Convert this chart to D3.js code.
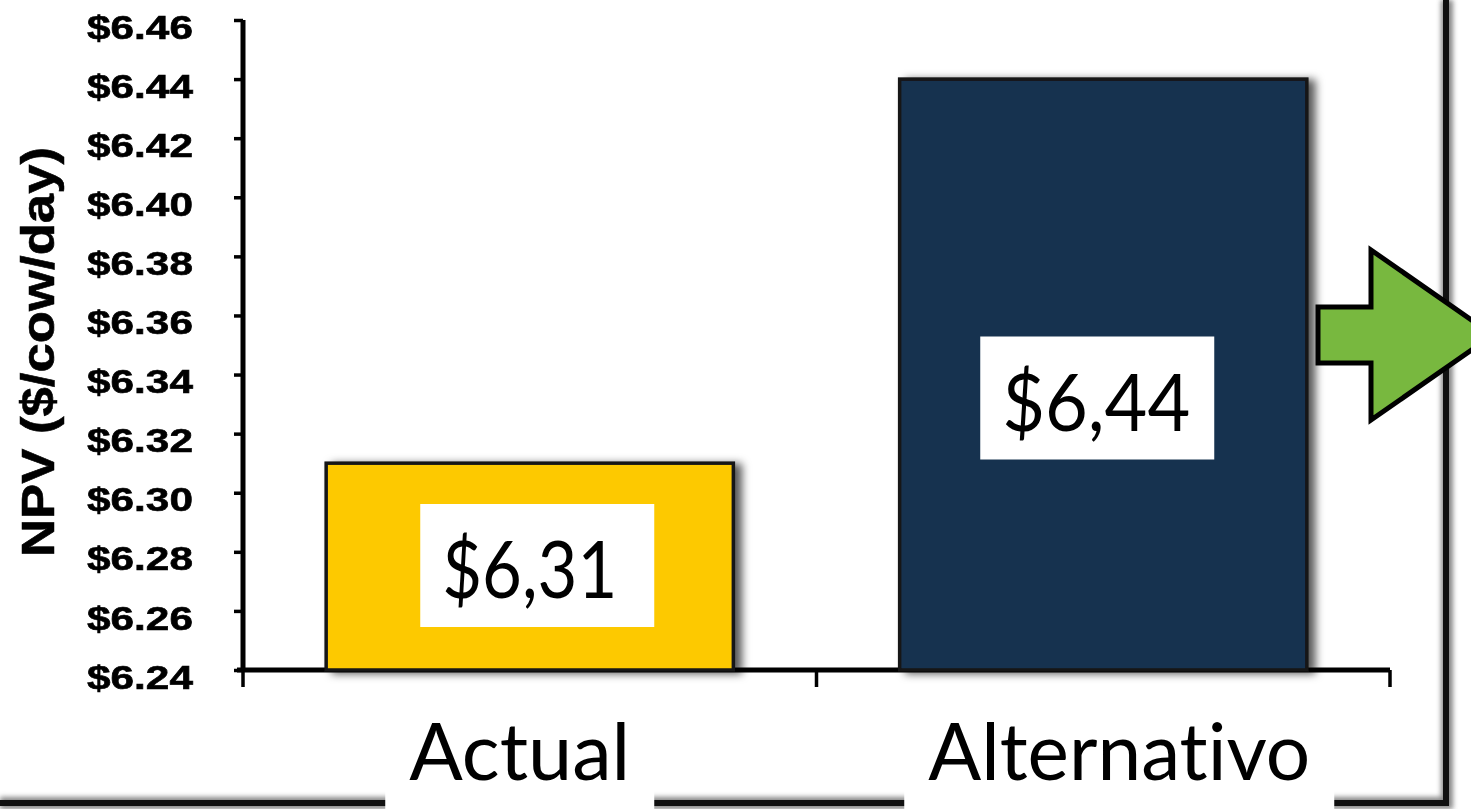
<!DOCTYPE html>
<html>
<head>
<meta charset="utf-8">
<script src="https://cdn.jsdelivr.net/npm/d3@7"></script>
<style>
  html, body { margin: 0; padding: 0; background: #fff; }
  svg { display: block; }
  text { font-variant-ligatures: none; font-feature-settings: "liga" 0, "clig" 0; }
</style>
</head>
<body>
<svg id="chart" width="1471" height="809"></svg>
<script>
// NPV per cow per day for the two scenarios
const categories = ["Actual", "Alternativo"];
const npvValues = [6.31, 6.44];
const barColors = ["#FDC900", "#15304F"];
const valueLabels = ["$6,31", "$6,44"];
const yTicks = [6.24, 6.26, 6.28, 6.30, 6.32, 6.34, 6.36, 6.38, 6.40, 6.42, 6.44, 6.46];
const yTickLabels = ["$6.24", "$6.26", "$6.28", "$6.30", "$6.32", "$6.34", "$6.36", "$6.38", "$6.40", "$6.42", "$6.44", "$6.46"];
const yTitle = "NPV ($/cow/day)";

const svg = d3.select("#chart");
const defs = svg.append("defs");

const shadow = defs.append("filter").attr("id", "barShadow")
  .attr("x", "-10%").attr("y", "-10%").attr("width", "130%").attr("height", "130%");
shadow.append("feDropShadow").attr("dx", 7).attr("dy", 2).attr("stdDeviation", 4)
  .attr("flood-color", "#000").attr("flood-opacity", 0.65);

const soft = defs.append("filter").attr("id", "soft")
  .attr("x", "-5%").attr("y", "-5%").attr("width", "110%").attr("height", "110%");
soft.append("feGaussianBlur").attr("stdDeviation", 0.6);

const haze = defs.append("filter").attr("id", "haze")
  .attr("x", "-50%").attr("y", "-50%").attr("width", "200%").attr("height", "200%");
haze.append("feGaussianBlur").attr("stdDeviation", 2.5);

// Scales
const x = d3.scaleBand().domain(categories).range([243, 1390])
  .paddingInner(0.29).paddingOuter(0.145);
const y = d3.scaleLinear().domain([6.24, 6.46]).range([670, 20]);

// Outer frame (right and bottom edges)
const frame = svg.append("g");
frame.append("path").attr("d", "M1447,0 V803 H0")
  .attr("fill", "none").attr("stroke", "#888").attr("stroke-width", 12)
  .attr("filter", "url(#haze)");
frame.append("path").attr("d", "M1446,0 V803 H0")
  .attr("fill", "none").attr("stroke", "#111").attr("stroke-width", 6);

// Axes
const axes = svg.append("g").attr("filter", "url(#soft)");

const yAxis = d3.axisLeft(y).tickValues(yTicks).tickSize(9)
  .tickFormat((d, i) => yTickLabels[i]);
const gy = axes.append("g").attr("transform", "translate(243,0)").call(yAxis);
gy.select(".domain").attr("d", `M0,${y(6.46)}V${y(6.24)}`)
  .attr("stroke", "#000").attr("stroke-width", 5);
gy.selectAll(".tick line").attr("stroke", "#000").attr("stroke-width", 3.5);
gy.selectAll(".tick text")
  .attr("x", -156).attr("dy", "0.55em")
  .attr("text-anchor", "start")
  .attr("font-family", "'Liberation Sans', Arial, sans-serif")
  .attr("font-weight", "bold").attr("font-size", 33).attr("fill", "#000")
  .attr("stroke", "#000").attr("stroke-width", 0.6)
  .attr("textLength", 106).attr("lengthAdjust", "spacingAndGlyphs");

// x axis with ticks on the category boundaries
const xBounds = [x.range()[0], (x(categories[0]) + x.bandwidth() + x(categories[1])) / 2, x.range()[1]];
const gx = axes.append("g");
gx.append("line").attr("x1", xBounds[0] - 6).attr("x2", xBounds[2])
  .attr("y1", y(6.24)).attr("y2", y(6.24))
  .attr("stroke", "#000").attr("stroke-width", 5);
gx.selectAll("line.tk").data(xBounds).join("line").attr("class", "tk")
  .attr("x1", d => d).attr("x2", d => d)
  .attr("y1", y(6.24)).attr("y2", y(6.24) + 17)
  .attr("stroke", "#000").attr("stroke-width", 3.5);

axes.append("text")
  .attr("transform", `translate(54,352) rotate(-90)`)
  .attr("text-anchor", "middle")
  .attr("font-family", "'Liberation Sans', Arial, sans-serif")
  .attr("font-weight", "bold").attr("font-size", 47).attr("fill", "#000")
  .attr("stroke", "#000").attr("stroke-width", 0.6)
  .attr("textLength", 410).attr("lengthAdjust", "spacingAndGlyphs")
  .text(yTitle);

// Bars
svg.append("g").selectAll("rect").data(categories).join("rect")
  .attr("x", d => x(d))
  .attr("y", (d, i) => y(npvValues[i]))
  .attr("width", x.bandwidth())
  .attr("height", (d, i) => y(6.24) - y(npvValues[i]))
  .attr("fill", (d, i) => barColors[i])
  .attr("stroke", "#161616").attr("stroke-width", 3.5)
  .attr("filter", "url(#barShadow)");

// Value labels in white boxes
const valueFont = "Lato, 'Open Sans', sans-serif";
const valueWidths = [175, 188];
const valueShift = [0, -7];
const valueCy = [565.5, 398];
const vg = svg.append("g");
categories.forEach((c, i) => {
  const cx = x(c) + x.bandwidth() / 2 + valueShift[i];
  const left = cx - valueWidths[i] / 2;
  vg.append("rect")
    .attr("x", left - 22).attr("y", valueCy[i] - 61.5)
    .attr("width", 234).attr("height", 123).attr("fill", "#fff");
  vg.append("text")
    .attr("x", left).attr("y", valueCy[i] + 32.5)
    .attr("font-family", valueFont).attr("font-size", 80).attr("fill", "#000")
    .attr("textLength", valueWidths[i]).attr("lengthAdjust", "spacingAndGlyphs")
    .text(valueLabels[i]);
});

// Category labels on white boxes below the axis
const catWidths = [221, 382];
const catShift = [-10, 16];
const cg = svg.append("g");
categories.forEach((c, i) => {
  const cx = x(c) + x.bandwidth() / 2 + catShift[i];
  cg.append("rect")
    .attr("x", cx - catWidths[i] / 2 - 24).attr("y", 712)
    .attr("width", catWidths[i] + 48).attr("height", 97).attr("fill", "#fff");
  cg.append("text")
    .attr("x", cx - catWidths[i] / 2).attr("y", 780)
    .attr("font-family", valueFont).attr("font-size", 80).attr("fill", "#000")
    .attr("textLength", catWidths[i]).attr("lengthAdjust", "spacingAndGlyphs")
    .text(c);
});

// Green arrow pointing right
svg.append("path")
  .attr("d", d3.line()([[1318, 307], [1371, 307], [1371, 250], [1493, 335],
                       [1371, 420], [1371, 363], [1318, 363]]) + "Z")
  .attr("fill", "#78B83F").attr("stroke", "#000").attr("stroke-width", 5)
  .attr("stroke-linejoin", "miter");
</script>
</body>
</html>
